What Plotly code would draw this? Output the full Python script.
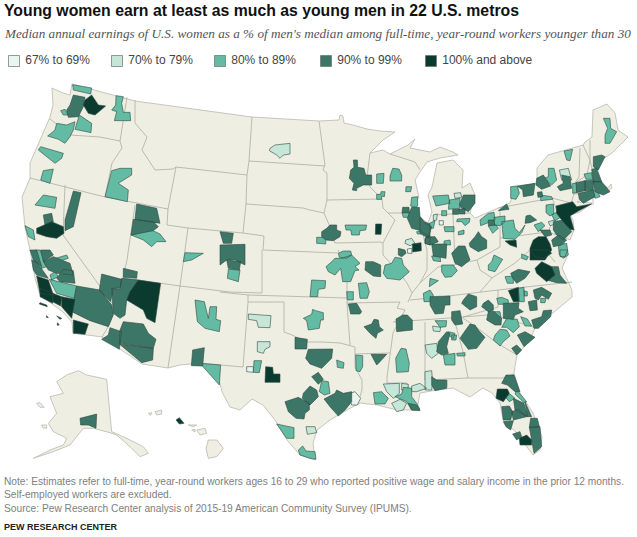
import plotly.graph_objs as go

labels = ["67% to 69%", "70% to 79%", "80% to 89%", "90% to 99%", "100% and above"]
colors = ["#E9F5EF", "#C6E6D8", "#62BBA2", "#3C7666", "#0B3A2F"]

# Lower 48 outline in pixels
outline = [52,88, 63,93, 70,95, 72,84, 135,101, 230,114, 252,117, 319,121, 339,120, 340,115, 343,116, 344,123,
           353,125, 367,129, 380,131, 395,132, 383,140, 370,153, 383,150, 390,154, 408,145, 415,139, 410,148,
           430,152, 440,147, 453,152, 458,155, 440,158, 427,162, 420,172, 415,180, 419,197, 413,207, 420,217,
           428,223, 432,212, 428,195, 432,187, 437,163, 453,160, 463,170, 462,188, 470,183, 475,195, 470,213,
           475,218, 493,210, 510,203, 515,190, 512,188, 537,183, 537,168, 548,155, 583,145, 585,142, 592,137,
           593,110, 607,104, 615,113, 618,130, 628,137, 612,153, 597,163, 593,173, 600,183, 608,188, 611,184,
           612,188, 605,193, 595,195, 577,202, 592,203, 580,212, 570,215, 573,220, 574,230, 570,240, 563,237,
           567,257, 562,268, 572,290, 572,297, 560,307, 548,317, 535,328, 530,340, 517,355, 514,373, 520,393,
           533,413, 542,437, 540,450, 533,455, 527,447, 517,433, 503,420, 500,403, 492,393, 483,388, 470,397,
           453,388, 437,390, 420,393, 417,410, 397,410, 377,405, 360,403, 347,410, 330,420, 317,430, 313,443,
           315,460, 300,455, 287,440, 275,420, 263,405, 252,399, 240,410, 230,407, 222,392, 220,383, 200,363,
           180,365, 168,368, 142,364, 102,337, 73,333, 72,322, 63,312, 40,295, 35,278, 30,250, 25,227, 22,197,
           30,178, 30,163, 38,145, 50,117, 53,105]

# State borders
borders = [
    [50,119, 70,135, 100,137, 120,141], [127,97, 120,141, 122,148, 112,163, 105,197],
    [30,178, 105,197, 168,209], [135,100, 135,123, 147,137, 142,150, 155,170, 173,169, 176,167],
    [176,167, 168,209, 167,225, 188,228, 243,233], [176,167, 247,175, 249,161, 252,117], [249,161, 325,166],
    [135,205, 127,260, 123,278, 123,300, 112,303], [65,185, 63,235, 112,303, 113,313, 108,327, 102,337],
    [188,228, 180,286], [123,278, 180,286, 230,292, 262,293], [180,286, 168,368],
    [247,175, 246,204, 243,233, 264,236, 263,250, 338,253], [319,121, 322,143, 325,165, 323,170, 327,173, 327,200, 324,213],
    [246,204, 303,208, 310,210, 324,213, 330,227, 335,243], [327,200, 382,199], [335,243, 380,242, 383,243],
    [370,153, 368,167, 367,177, 370,187, 382,199, 383,208, 395,220, 383,243], [388,213, 420,213],
    [390,154, 415,162, 420,170], [220,292, 248,295, 347,298], [248,295, 248,302, 243,367, 200,363],
    [248,302, 284,302, 284,332, 292,335, 307,342, 323,342, 340,343, 355,347],
    [262,250, 262,293], [338,250, 347,270, 347,303, 350,345], [355,347, 355,367, 362,380, 362,390, 358,403],
    [347,303, 400,302, 397,308, 405,310, 393,333, 390,353, 387,377, 387,383, 407,383, 410,390], [355,354, 390,353],
    [393,322, 463,317, 498,307, 498,290], [425,322, 425,380], [410,300, 440,297, 498,290, 572,282],
    [463,317, 487,315, 500,317, 520,323, 537,328], [463,318, 480,330, 497,343, 517,355], [455,322, 463,352, 468,378],
    [425,380, 468,378, 503,378, 514,374], [447,380, 447,387], [383,243, 383,255, 397,270, 407,283, 412,293, 408,302],
    [420,223, 427,250, 427,270, 420,283, 412,293], [433,215, 470,213], [453,215, 455,262], [420,283, 438,267, 453,265, 477,260, 500,247, 500,210],
    [477,260, 480,270, 492,278, 480,292], [492,278, 515,263, 530,250, 535,243], [500,238, 548,232],
    [498,208, 552,198, 558,213, 553,220, 548,232], [552,198, 571,203], [580,148, 579,177, 575,183, 574,194, 571,203],
    [583,145, 590,160, 587,175, 575,183], [590,140, 590,160, 593,173], [574,194, 597,193], [593,195, 593,205],
    [548,232, 563,237], [530,250, 545,250, 555,262],
]

extra = [
    [175,362, 200,375, 260,388, 275,545, 320,565, 370,590, 385,610, 360,620, 330,590, 290,555, 270,548, 220,535, 190,535,
     150,585, 100,605, 40,625, 90,600, 130,585, 140,565, 100,545, 85,520, 110,490, 90,440, 130,430, 110,395, 140,375],
    [50,460, 60,458, 72,472, 60,472], [65,525, 80,525, 80,535, 68,533],
    [405,485, 425,480, 425,492, 410,495], [385,490, 395,488, 392,496], [505,525, 530,525, 520,530], [515,540, 525,538, 525,546],
    [530,540, 555,535, 560,550, 540,555], [565,570, 590,570, 610,595, 590,620, 565,625, 558,595],
]

# Metros as (bin, outline), grouped by the enlarged crop they were read from
metros = {
    (20, 80): [
        (2, [158,14, 215,24, 212,42, 160,30]),
        (3, [160,45, 195,52, 190,80, 175,110, 145,112, 140,90, 150,75]),
        (4, [195,60, 215,45, 235,75, 257,78, 225,105, 205,100, 190,75]),
        (2, [122,92, 135,88, 145,105, 130,105]),
        (2, [288,47, 310,50, 305,70, 310,97, 330,97, 332,122, 283,122, 290,95, 275,90, 287,75]),
        (2, [178,105, 215,130, 213,158, 165,148]),
        (2, [110,130, 140,135, 165,125, 160,150, 150,170, 135,190, 115,178, 83,168, 105,150]),
        (2, [62,200, 130,220, 125,235, 105,250, 55,210]),
        (2, [70,272, 100,267, 90,310, 62,300]),
        (2, [275,272, 300,265, 335,265, 335,285, 295,310, 325,330, 322,365, 255,350]),
        (2, [70,345, 110,352, 105,385, 45,375]),
        (3, [160,333, 183,338, 160,440, 135,452, 135,420]),
        (3, [350,372, 410,385, 420,430, 345,418]),
        (3, [340,418, 400,425, 415,440, 400,452, 333,465]),
        (2, [333,465, 395,450, 420,462, 438,485, 410,485, 395,500, 370,480]),
        (2, [495,518, 550,520, 515,540, 490,545]),
        (3, [70,405, 95,400, 100,425, 75,435]),
        (4, [50,445, 95,425, 130,440, 132,460, 110,475, 80,470, 50,460]),
        (2, [15,437, 40,450, 45,480, 25,470]),
    ],
    (20, 250): [
        (3, [30,0, 50,0, 65,50, 40,30]),
        (2, [45,0, 60,0, 80,50, 65,55]),
        (3, [62,0, 90,0, 100,15, 70,35]),
        (3, [70,35, 100,20, 150,40, 160,75, 110,70, 85,60]),
        (2, [90,30, 140,15, 145,25, 100,40]),
        (3, [110,85, 130,58, 160,62, 165,100, 120,95]),
        (3, [35,30, 50,35, 85,85, 50,75, 40,60]),
        (2, [90,75, 105,65, 115,80, 95,90]),
        (2, [88,88, 170,108, 162,145, 110,130]),
        (4, [50,78, 85,90, 100,135, 60,130]),
        (4, [60,115, 100,130, 98,160, 60,140]),
        (4, [98,130, 125,140, 122,168, 98,155]),
        (4, [125,140, 165,148, 155,205, 125,170]),
        (4, [160,210, 205,222, 195,253, 160,250]),
        (3, [170,108, 240,120, 275,165, 280,195, 265,230, 210,212, 155,185, 165,140]),
        (3, [245,72, 305,88, 300,115, 280,115, 272,155, 238,120]),
        (3, [310,55, 352,65, 350,85, 310,82]),
        (3, [305,85, 355,90, 320,150, 315,195, 300,205, 280,190, 275,115, 300,118]),
        (4, [355,90, 422,100, 405,218, 380,205, 370,180, 320,150, 330,125]),
        (3, [310,215, 370,222, 385,250, 408,268, 400,295, 298,280, 300,240]),
        (3, [270,233, 305,245, 298,298, 245,268, 265,255]),
        (3, [298,282, 400,295, 398,330, 365,338]),
        (4, [60,158, 80,165, 82,170, 58,162]),
        (4, [110,198, 125,205, 120,208]),
        (4, [112,218, 118,225, 112,226]),
        (4, [80,197, 85,203, 79,202]),
        (2, [525,150, 553,155, 565,205, 570,170, 590,170, 588,208, 602,212, 598,245, 555,235, 532,215]),
        (3, [518,300, 553,293, 548,348, 514,347]),
        (2, [540,340, 602,345, 598,405]),
        (3, [180,505, 230,492, 228,535, 205,525, 182,525]),
        (4, [468,510, 478,503, 492,520, 478,522]),
    ],
    (220, 80): [
        (1, [150,205, 165,195, 210,190, 210,222, 190,225, 180,235, 170,225, 148,212]),
        (3, [400,240, 412,240, 413,262, 432,265, 437,285, 455,285, 455,315, 430,315, 410,325, 410,332, 397,330, 402,310, 388,295, 392,270, 402,262]),
        (2, [470,282, 492,280, 490,310, 470,310]),
        (2, [518,265, 537,267, 545,285, 545,303, 510,303, 510,288]),
        (2, [558,320, 575,320, 572,335, 557,335]),
        (2, [470,343, 482,343, 483,335, 495,335, 493,350, 485,348, 485,358, 470,358]),
        (2, [575,352, 593,350, 593,378, 585,382, 572,378]),
        (3, [548,382, 567,382, 568,398, 546,398]),
        (2, [546,398, 568,398, 565,412, 550,412]),
        (3, [575,382, 598,382, 600,410, 612,425, 630,432, 630,470, 595,450, 575,445, 562,415]),
        (2, [590,455, 612,450, 612,462, 592,462]),
        (3, [615,475, 630,470, 630,495, 615,490]),
        (2, [375,435, 440,435, 437,450, 420,452, 418,465, 395,465, 392,450, 378,450]),
        (4, [467,432, 485,432, 483,463, 466,463]),
        (3, [320,445, 330,435, 350,435, 350,450, 363,455, 360,470, 340,482, 318,480, 305,470, 305,455]),
        (2, [290,472, 318,472, 317,492, 290,490]),
        (1, [557,480, 575,475, 585,490, 570,497, 555,490]),
        (4, [577,492, 603,488, 604,512, 578,516]),
        (0, [562,507, 575,505, 576,520, 563,520]),
        (3, [535,505, 555,510, 558,520, 545,530, 535,525]),
        (3, [0,455, 40,460, 35,490, 10,490]),
    ],
    (220, 250): [
        (3, [0,-15, 75,-17, 75,45, 45,30, 20,30, 0,45]),
        (3, [20,30, 62,35, 58,60, 25,55]),
        (2, [25,58, 60,60, 55,95, 22,85]),
        (2, [355,10, 370,3, 392,3, 395,15, 380,25, 358,22]),
        (2, [365,25, 395,15, 420,40, 405,50, 417,60, 405,62, 392,95, 368,95, 362,55, 345,75, 325,65, 318,50, 335,35, 345,25]),
        (3, [437,35, 460,35, 482,45, 482,80, 460,78, 435,60]),
        (2, [495,45, 515,40, 525,22, 545,25, 550,45, 568,65, 540,90, 500,85, 490,70]),
        (2, [415,100, 440,98, 448,125, 442,145, 420,145]),
        (2, [380,125, 400,125, 400,150, 382,150]),
        (2, [275,90, 317,92, 315,115, 295,118, 293,140, 270,140]),
        (3, [385,162, 410,160, 425,185, 420,192, 392,192]),
        (1, [85,192, 153,197, 150,233, 115,232, 110,212, 85,208]),
        (2, [278,178, 287,182, 310,188, 310,210, 302,210, 298,235, 265,240, 260,212, 250,205, 275,193]),
        (3, [225,262, 262,268, 260,297, 225,297]),
        (3, [265,298, 338,297, 335,325, 305,355, 270,342, 257,325]),
        (2, [350,330, 372,338, 370,355, 352,352]),
        (2, [407,315, 428,317, 428,350, 420,365, 408,362]),
        (3, [453,313, 500,313, 480,335, 470,345, 462,330]),
        (3, [432,230, 455,222, 462,208, 475,210, 478,230, 490,240, 472,250, 468,265, 450,250]),
        (3, [528,207, 548,195, 562,195, 577,210, 577,240, 548,242, 530,245]),
        (2, [543,295, 558,297, 568,340, 565,365, 530,367, 527,325]),
        (1, [112,275, 150,275, 150,290, 135,298, 130,310, 112,305]),
        (0, [80,350, 100,350, 100,367, 80,365]),
        (2, [102,332, 125,332, 118,368, 100,367]),
        (4, [137,350, 158,352, 160,372, 180,372, 180,397, 135,397]),
        (3, [275,380, 295,367, 310,388, 295,403]),
        (2, [305,392, 325,395, 330,430, 313,435, 298,425]),
        (3, [250,430, 270,408, 290,420, 295,440, 270,465, 247,445]),
        (3, [195,455, 235,442, 268,460, 268,480, 255,490, 252,507, 228,505, 205,485]),
        (3, [312,447, 345,430, 350,420, 370,430, 395,425, 395,455, 375,480, 355,498, 330,470]),
        (0, [385,432, 405,425, 422,445, 412,465, 395,465]),
        (2, [170,522, 222,533, 222,565, 200,565]),
        (1, [258,530, 285,530, 290,548, 262,553]),
        (2, [235,600, 248,588, 258,603, 285,605, 288,628, 270,625, 240,615]),
        (1, [490,402, 538,400, 538,430, 520,445, 500,425]),
        (1, [545,400, 565,403, 563,420, 545,420]),
        (1, [575,408, 600,400, 620,415, 590,425, 575,425]),
        (2, [460,428, 485,425, 505,445, 495,462, 465,462]),
        (2, [525,440, 545,432, 550,412, 575,415, 575,440, 590,460, 600,478, 575,480, 560,455]),
        (1, [515,460, 540,448, 560,460, 550,480, 530,485]),
        (3, [565,460, 590,465, 600,482, 575,480]),
    ],
    (420, 80): [
        (2, [550,115, 570,115, 572,145, 590,155, 570,190, 555,190, 555,165, 563,145]),
        (2, [432,213, 458,208, 450,242, 440,240]),
        (1, [418,270, 445,265, 455,300, 425,300]),
        (2, [385,265, 402,265, 410,300, 395,315, 372,295, 385,290]),
        (3, [425,285, 450,290, 455,325, 420,332, 412,320, 430,310]),
        (3, [350,295, 370,285, 392,318, 365,328, 348,315]),
        (2, [272,320, 292,318, 298,340, 288,358, 272,355]),
        (3, [292,318, 345,310, 340,345, 310,350, 308,330]),
        (3, [352,337, 366,335, 368,350, 354,352]),
        (2, [362,345, 395,350, 398,358, 362,362]),
        (3, [235,392, 260,372, 267,388]),
        (3, [520,230, 545,225, 555,230, 535,270, 520,260]),
        (2, [492,282, 515,278, 518,298, 498,298]),
        (3, [515,268, 530,265, 545,305, 520,305]),
        (3, [468,308, 495,302, 495,332, 470,338]),
        (3, [495,302, 520,300, 520,330, 495,332]),
        (3, [520,305, 545,305, 570,335, 550,345, 525,335]),
        (3, [475,340, 520,330, 525,350, 490,370, 478,358]),
        (2, [458,310, 470,310, 470,338, 458,340]),
        (2, [515,335, 530,330, 540,350, 525,355]),
        (4, [408,378, 458,365, 470,380, 515,372, 475,393, 450,408, 462,450, 450,448, 425,420, 410,400]),
        (2, [378,375, 400,372, 402,400, 390,408, 378,398]),
        (2, [395,405, 412,395, 425,410, 405,422]),
        (1, [385,425, 405,420, 405,433, 390,437]),
        (2, [342,435, 365,427, 375,437, 355,455]),
        (3, [400,425, 430,420, 455,455, 430,480, 410,465, 400,450]),
        (3, [360,450, 390,450, 395,465, 375,470]),
        (3, [318,408, 330,405, 350,420, 330,428, 315,430]),
        (2, [245,425, 280,420, 285,445, 298,458, 315,435, 305,458, 285,478, 250,475]),
        (4, [255,483, 288,480, 290,502, 270,495]),
        (4, [340,480, 355,470, 378,470, 390,492, 395,510, 375,540, 330,540, 330,505]),
        (3, [395,480, 415,465, 440,480, 425,495, 400,500]),
        (2, [415,495, 440,490, 445,525, 430,535, 418,525]),
        (2, [38,348, 85,345, 90,370, 48,378]),
        (1, [102,340, 122,338, 125,352, 105,355]),
        (2, [88,360, 120,355, 120,385, 85,388]),
        (3, [130,345, 165,345, 165,370, 145,395, 125,385, 118,375]),
        (3, [98,388, 118,388, 115,403, 98,403]),
        (3, [118,388, 135,385, 135,402, 118,402]),
        (2, [65,392, 80,392, 80,407, 65,407]),
        (2, [112,417, 150,415, 148,427, 135,437, 125,425, 110,425]),
        (2, [205,400, 222,397, 225,420, 182,437, 180,420]),
        (2, [222,412, 255,408, 255,425, 240,437, 222,435]),
        (3, [205,420, 222,420, 224,435, 205,437]),
        (2, [205,438, 228,435, 235,445, 218,460]),
        (0, [57,422, 70,422, 70,435, 58,435]),
        (1, [40,405, 52,402, 50,420, 40,422]),
        (3, [0,410, 15,430, 35,440, 25,475, 0,460]),
        (2, [28,430, 45,422, 40,445, 28,445]),
        (2, [72,440, 102,440, 102,455, 75,455]),
        (2, [115,455, 132,450, 132,462, 115,465]),
        (3, [18,470, 45,470, 55,485, 30,495, 15,490]),
        (2, [72,483, 90,480, 92,495, 72,495]),
        (3, [165,470, 175,455, 185,470, 200,480, 200,505, 175,515, 150,500, 148,490]),
    ],
    (420, 250): [
        (3, [35,-18, 80,-18, 78,25, 40,18]),
        (2, [35,18, 60,18, 62,35, 40,32]),
        (3, [95,10, 115,-12, 135,-12, 150,30, 125,50, 105,40]),
        (2, [65,45, 100,45, 112,62, 95,80, 75,82, 65,65]),
        (2, [205,45, 215,35, 222,15, 248,28, 225,65, 205,60]),
        (2, [305,12, 325,20, 320,30, 305,25]),
        (4, [330,0, 385,0, 395,10, 370,25, 345,20]),
        (2, [420,0, 443,0, 435,20, 420,20]),
        (4, [345,55, 365,35, 395,50, 405,75, 380,95, 350,70]),
        (3, [395,50, 415,50, 420,75, 440,100, 410,98, 380,90]),
        (2, [255,80, 280,78, 280,100, 262,100]),
        (3, [272,70, 295,58, 330,65, 315,85, 290,100, 278,85]),
        (2, [30,85, 55,92, 28,110, 28,95]),
        (2, [10,130, 30,120, 40,135, 35,155, 12,155]),
        (3, [30,140, 90,138, 90,165, 75,165, 70,190, 45,192, 30,165]),
        (3, [130,150, 145,132, 170,140, 170,170, 150,180, 125,160]),
        (3, [190,160, 205,150, 220,165, 220,180, 205,185, 185,170]),
        (4, [265,122, 295,112, 297,155, 280,155]),
        (2, [295,115, 312,112, 313,155, 298,155]),
        (2, [312,122, 322,125, 322,138, 313,138]),
        (2, [230,145, 245,142, 265,150, 265,163, 235,163]),
        (3, [250,160, 297,158, 295,175, 310,185, 285,195, 280,208, 250,205]),
        (3, [340,120, 365,112, 395,130, 385,148, 365,135, 355,150, 345,145]),
        (2, [362,145, 378,145, 375,158, 362,158]),
        (3, [325,155, 350,150, 352,180, 330,182]),
        (3, [205,185, 220,183, 245,205, 243,225, 225,225, 200,210]),
        (2, [222,185, 240,185, 243,203, 230,205]),
        (2, [260,205, 292,208, 298,230, 280,248, 260,232, 245,232]),
        (2, [302,200, 322,207, 335,228, 315,228]),
        (3, [335,210, 365,200, 370,182, 395,180, 392,200, 355,235, 342,235]),
        (3, [95,185, 120,182, 128,222, 105,225, 95,210]),
        (2, [45,212, 80,212, 78,230, 60,232]),
        (1, [38,228, 62,232, 60,245, 40,243]),
        (3, [80,245, 90,250, 80,290, 85,310, 65,315, 50,305, 55,275]),
        (2, [85,245, 105,250, 100,265, 88,258]),
        (2, [95,255, 110,255, 108,270, 95,270]),
        (3, [130,250, 150,222, 165,225, 175,240, 195,262, 170,295, 145,298, 120,265]),
        (2, [225,255, 240,238, 260,240, 270,258, 250,275, 240,288, 220,270]),
        (3, [292,255, 315,245, 345,262, 312,290]),
        (3, [275,295, 290,285, 305,300, 290,315]),
        (2, [70,315, 105,310, 105,345, 75,345]),
        (2, [110,310, 135,308, 135,318, 112,318]),
        (1, [15,285, 50,280, 55,310, 35,325, 20,310]),
        (1, [15,365, 35,362, 38,395, 35,420, 15,420]),
        (3, [35,380, 50,390, 80,390, 80,415, 45,422, 35,405]),
        (3, [258,375, 282,375, 300,425, 285,425, 262,405, 245,400]),
        (2, [290,420, 320,455, 312,458, 285,432]),
        (4, [232,417, 262,417, 268,430, 250,455, 228,445]),
        (2, [255,440, 270,432, 285,445, 268,455]),
        (3, [280,445, 312,460, 322,500, 285,480]),
        (3, [315,455, 335,500, 322,500]),
        (3, [245,470, 268,468, 278,485, 272,510, 250,510]),
        (3, [275,485, 295,478, 320,500, 280,510]),
        (3, [250,515, 280,512, 272,540, 258,530]),
        (3, [332,505, 352,505, 358,530, 328,532]),
        (3, [328,532, 360,530, 365,590, 342,610, 335,570]),
        (3, [278,552, 300,545, 305,560, 290,570]),
        (4, [298,565, 320,555, 335,570, 335,585, 300,585]),
    ],
}

# The land: one trace with breaks between the pieces
land_x = outline[0::2] + [outline[0], None]
land_y = outline[1::2] + [outline[1], None]
for piece in extra:
    xs = [20 + v / 3 for v in piece[0::2]]
    ys = [250 + v / 3 for v in piece[1::2]]
    land_x += xs + [xs[0], None]
    land_y += ys + [ys[0], None]

land = go.Scatter(x=land_x, y=land_y, mode="lines", fill="toself", fillcolor="#EFEEE3",
                  line=dict(color="#B9B9B0", width=0.8), hoverinfo="skip")

border_x = []
border_y = []
for line in borders:
    border_x += line[0::2] + [None]
    border_y += line[1::2] + [None]

state_lines = go.Scatter(x=border_x, y=border_y, mode="lines", line=dict(color="#ADADA5", width=0.8), hoverinfo="skip")

# One trace for each class of metros
bin_x = [[] for _ in labels]
bin_y = [[] for _ in labels]
for (x0, y0), shapes in metros.items():
    for (b, pts) in shapes:
        xs = [x0 + v / 3 for v in pts[0::2]]
        ys = [y0 + v / 3 for v in pts[1::2]]
        bin_x[b] += xs + [xs[0], None]
        bin_y[b] += ys + [ys[0], None]

metro_traces = []
for b in range(len(labels)):
    metro_traces.append(go.Scatter(x=bin_x[b], y=bin_y[b], mode="lines", fill="toself", fillcolor=colors[b],
                                   line=dict(color="#2F4A42", width=0.6), name=labels[b]))

# Legend row
legend_row = go.Scatter(
    x=[14, 117, 220, 326, 431],
    y=[61, 61, 61, 61, 61],
    mode="markers+text",
    marker=dict(size=11, symbol="square", color=colors, line=dict(color="#6E6E6E", width=0.7)),
    text=["\u00a0" + label for label in labels],
    textposition="middle right",
    textfont=dict(family="Liberation Sans", size=12, color="#444444"),
    hoverinfo="skip",
)

notes = ("Note: Estimates refer to full-time, year-round workers ages 16 to 29 who reported positive wage and salary income in the prior 12 months.<br>"
         "Self-employed workers are excluded.<br>"
         "Source: Pew Research Center analysis of 2015-19 American Community Survey (IPUMS).")

layout = go.Layout(
    width=637,
    height=537,
    margin=dict(l=0, r=0, t=0, b=0),
    showlegend=False,
    paper_bgcolor="white",
    plot_bgcolor="white",
    xaxis=dict(range=[0, 637], visible=False, fixedrange=True),
    yaxis=dict(range=[537, 0], visible=False, fixedrange=True),
    annotations=[
        dict(x=2, y=10, xref="x", yref="y", xanchor="left", yanchor="middle", showarrow=False,
             text="<b>Young women earn at least as much as young men in 22 U.S. metros</b>",
             font=dict(family="Liberation Sans", size=15.8, color="#111111")),
        dict(x=2, y=33, xref="x", yref="y", xanchor="left", yanchor="middle", showarrow=False,
             text="<i>Median annual earnings of U.S. women as a % of men's median among full-time, year-round workers younger than 30</i>",
             font=dict(family="Liberation Serif", size=13.2, color="#555555")),
        dict(x=2, y=495, xref="x", yref="y", xanchor="left", yanchor="middle", showarrow=False, align="left",
             text=notes, font=dict(family="Liberation Sans", size=10.2, color="#808080")),
        dict(x=2, y=527, xref="x", yref="y", xanchor="left", yanchor="middle", showarrow=False,
             text="<b>PEW RESEARCH CENTER</b>", font=dict(family="Liberation Sans", size=9, color="#222222")),
    ],
)

fig = go.Figure(data=[land, state_lines] + metro_traces + [legend_row], layout=layout)

fig.write_html("out.html", config=dict(displayModeBar=False), post_script="document.body.style.margin='0';")
